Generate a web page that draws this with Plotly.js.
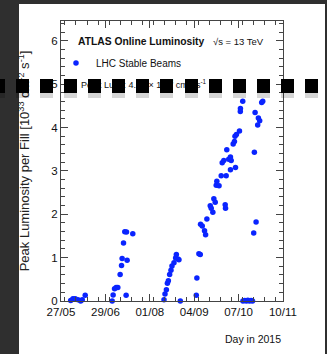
<!DOCTYPE html>
<html>
<head>
<meta charset="utf-8">
<script src="https://cdn.plot.ly/plotly-3.0.1.min.js"></script>
<style>
  html, body { margin: 0; padding: 0; background: #2f2f2f; }
  #chart { width: 327px; height: 354px; }
</style>
</head>
<body>
<div id="chart"></div>
<script>
// Peak luminosity of each LHC fill, 2015 (units of 1e33 cm^-2 s^-1)
const fillDates = [
  '2015-06-03 07:00', '2015-06-05 00:00', '2015-06-06 17:00', '2015-06-08 19:00',
  '2015-06-10 19:00', '2015-06-12 00:00', '2015-06-14 05:00',
  '2015-07-04 12:00', '2015-07-05 05:00', '2015-07-06 07:00', '2015-07-07 12:00',
  '2015-07-08 18:00', '2015-07-10 12:00', '2015-07-11 13:00', '2015-07-12 00:00',
  '2015-07-15 18:00', '2015-07-13 01:00', '2015-07-14 00:00', '2015-07-15 07:00',
  '2015-07-20 00:00', '2015-07-15 00:00',
  '2015-08-12 12:00', '2015-08-13 06:00', '2015-08-14 07:00', '2015-08-15 01:00',
  '2015-08-15 19:00', '2015-08-16 18:00', '2015-08-17 18:00', '2015-08-18 12:00',
  '2015-08-20 00:00', '2015-08-21 06:00', '2015-08-21 19:00', '2015-08-23 00:00',
  '2015-08-23 18:00', '2015-08-24 19:00',
  '2015-09-05 19:00', '2015-09-06 06:00', '2015-09-07 18:00', '2015-09-08 19:00',
  '2015-09-09 00:00', '2015-09-10 07:00', '2015-09-12 00:00', '2015-09-12 19:00',
  '2015-09-13 18:00', '2015-09-16 07:00', '2015-09-17 01:00', '2015-09-18 06:00',
  '2015-09-19 00:00', '2015-09-20 01:00', '2015-09-20 19:00', '2015-09-21 06:00',
  '2015-09-22 22:00', '2015-09-24 13:00', '2015-09-25 07:00', '2015-09-26 12:00',
  '2015-09-27 13:00', '2015-09-27 19:00', '2015-09-28 07:00', '2015-09-28 18:00',
  '2015-09-30 05:00', '2015-10-01 12:00', '2015-10-02 01:00', '2015-10-01 12:00',
  '2015-10-05 07:00', '2015-10-03 13:00', '2015-10-04 12:00', '2015-10-04 22:00',
  '2015-10-06 00:00', '2015-10-08 07:00', '2015-10-08 22:00', '2015-10-09 00:00',
  '2015-10-10 18:00',
  '2015-10-10 22:00', '2015-10-12 06:00', '2015-10-13 12:00', '2015-10-14 14:00',
  '2015-10-15 19:00', '2015-10-17 00:00', '2015-10-18 02:00',
  '2015-10-19 00:00', '2015-10-20 19:00', '2015-10-19 12:00', '2015-10-20 01:00',
  '2015-10-22 00:00', '2015-10-22 12:00', '2015-10-23 12:00', '2015-10-25 00:00',
  '2015-10-25 19:00'
];
const peakLumi = [
  0.01, 0.05, 0.05, 0.03, 0.00, 0.03, 0.13,
  0.00, 0.14, 0.28, 0.31, 0.31, 0.61, 0.82, 0.98, 0.94, 1.34, 1.60, 1.59, 1.55, 0.13,
  0.03, 0.16, 0.26, 0.41, 0.47, 0.61, 0.71, 0.81, 0.88, 0.99, 1.07, 0.97, 0.95, 0.00,
  0.13, 0.53, 1.09, 1.07, 1.77, 1.73, 1.62, 1.53, 1.89, 2.20, 2.14, 2.05, 2.36, 2.28,
  2.67, 2.76, 2.66, 2.89, 3.19, 3.24, 2.22, 2.14, 2.89, 3.49, 3.27, 3.32, 3.24, 3.03,
  3.08, 3.62, 3.68, 3.80, 3.84, 3.92, 4.37, 4.44, 4.61,
  0.00, 0.01, 0.00, 0.02, 0.00, 0.01, 0.00,
  1.57, 1.82, 3.43, 4.35, 4.06, 4.22, 4.16, 4.58, 4.61
];
const xRange = ['2015-05-27 00:00', '2015-11-10 01:00'];
const yRange = [0, 6.46];
const seriesName = 'LHC Stable Beams';
const headline = 'ATLAS Online Luminosity';
const energyLabel = '\u221As = 13 TeV';
const peakLabel = 'Peak Lumi: ' + Math.max(...peakLumi).toFixed(2) +
  ' \u00D7 10<sup>33</sup> cm<sup>-2</sup> s<sup>-1</sup>';
const yTitle = 'Peak Luminosity per Fill [10<sup>33</sup> cm<sup>-2</sup> s<sup>-1</sup>]';
const xTitle = 'Day in 2015';

// page geometry (px)
const W = 327, H = 354;
const M = { l: 61, r: 44, t: 21, b: 53 };
const PW = W - M.l - M.r, PH = H - M.t - M.b;
const px = v => (v - M.l) / PW;        // pixel column -> paper x
const py = v => (H - M.b - v) / PH;    // pixel row -> paper y

const SANS = '"Liberation Sans", Arial, Helvetica, sans-serif';
const DAY = 86400000;
const TICK_DAYS = 33.4;

// white slide panel behind the figure
const shapes = [{
  type: 'rect', xref: 'paper', yref: 'paper', layer: 'below',
  x0: px(19), x1: px(325), y0: py(H + 5), y1: py(4),
  fillcolor: '#ffffff', line: { width: 0 }
}];

const annotations = [
  { xref: 'paper', yref: 'paper', x: px(76), y: py(42), xanchor: 'left', yanchor: 'middle',
    text: '<b>' + headline + '</b>', showarrow: false,
    font: { family: SANS, size: 10.3, color: '#111' } },
  { xref: 'paper', yref: 'paper', x: px(211), y: py(42), xanchor: 'left', yanchor: 'middle',
    text: energyLabel, showarrow: false,
    font: { family: SANS, size: 9.5, color: '#111' } },
  { xref: 'paper', yref: 'paper', x: px(79), y: py(84), xanchor: 'left', yanchor: 'middle',
    text: peakLabel, showarrow: false,
    font: { family: SANS, size: 9, color: '#111' } },
  { xref: 'paper', yref: 'paper', x: 1, y: py(339), xanchor: 'right', yanchor: 'middle',
    text: xTitle, showarrow: false,
    font: { family: SANS, size: 10.5, color: '#111' } }
];

// row of black squares with a soft drop shadow across the slide
const sqW = 13, sqH = 14, sqStep = 24.1, sqStart = -8.2, sqTop = 78.5;
for (let left = sqStart; left < W; left += sqStep) {
  annotations.push({ xref: 'paper', yref: 'paper', x: px(left), y: py(sqTop + 5),
    xanchor: 'left', yanchor: 'top', text: ' ', showarrow: false,
    width: sqW, height: sqH, borderpad: 0, borderwidth: 0,
    bgcolor: 'rgba(0,0,0,0.16)' });
}
for (let left = sqStart; left < W; left += sqStep) {
  annotations.push({ xref: 'paper', yref: 'paper', x: px(left), y: py(sqTop),
    xanchor: 'left', yanchor: 'top', text: ' ', showarrow: false,
    width: sqW, height: sqH, borderpad: 0, borderwidth: 0, bgcolor: '#000000' });
}

const trace = {
  type: 'scatter', mode: 'markers', name: seriesName,
  x: fillDates, y: peakLumi,
  marker: { color: '#0a24ff', size: 5.5 },
  cliponaxis: false
};

const axisCommon = {
  showline: true, linecolor: '#444', linewidth: 1, mirror: 'allticks',
  ticks: 'inside', ticklen: 7, tickcolor: '#444', tickwidth: 1,
  showgrid: false, zeroline: false,
  tickfont: { family: SANS, size: 11.5, color: '#111' }
};

const layout = {
  width: W, height: H, margin: M,
  paper_bgcolor: '#2f2f2f', plot_bgcolor: 'rgba(0,0,0,0)',
  showlegend: true,
  legend: { x: px(56), y: py(63), xanchor: 'left', yanchor: 'middle',
    bgcolor: 'rgba(0,0,0,0)', font: { family: SANS, size: 10, color: '#111' } },
  xaxis: Object.assign({}, axisCommon, {
    type: 'date', range: xRange, tick0: '2015-05-27 00:00', dtick: TICK_DAYS * DAY,
    tickformat: '%d/%m',
    minor: { ticks: 'inside', ticklen: 4, tickcolor: '#444', dtick: TICK_DAYS / 4 * DAY, showgrid: false }
  }),
  yaxis: Object.assign({}, axisCommon, {
    range: yRange, dtick: 1, tick0: 0,
    minor: { ticks: 'inside', ticklen: 4, tickcolor: '#444', dtick: 0.2, showgrid: false },
    title: { text: yTitle, standoff: 18, font: { family: SANS, size: 13, color: '#222' } }
  }),
  shapes: shapes,
  annotations: annotations
};

Plotly.newPlot('chart', [trace], layout, { displayModeBar: false, staticPlot: true });
</script>
</body>
</html>
